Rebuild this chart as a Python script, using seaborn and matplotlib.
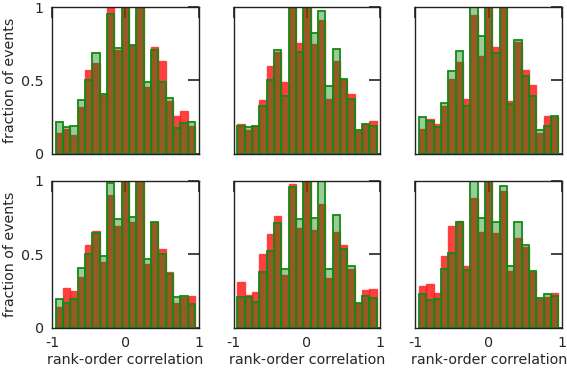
import numpy as np
import seaborn as sns
import matplotlib
matplotlib.use("Agg")
import matplotlib.pyplot as plt

# bin centres of the rank-order correlation histograms
centers = [-0.9, -0.8, -0.7, -0.6, -0.5, -0.4, -0.3, -0.2, -0.1, 0.0,
           0.1, 0.2, 0.3, 0.4, 0.5, 0.6, 0.7, 0.8, 0.9]

# red series, one list per panel (row by row)
red_1 = [0.14, 0.17, 0.13, 0.32, 0.57, 0.62, 0.40, 1.00, 0.71, 1.00,
         0.74, 1.00, 0.455, 0.73, 0.63, 0.36, 0.26, 0.29, 0.19]
red_2 = [0.205, 0.16, 0.19, 0.37, 0.60, 0.695, 0.49, 1.00, 0.755, 1.00,
         0.75, 0.91, 0.375, 0.63, 0.51, 0.41, 0.157, 0.20, 0.227]
red_3 = [0.168, 0.239, 0.205, 0.327, 0.51, 0.623, 0.373, 0.943, 0.664, 1.00,
         0.73, 1.00, 0.36, 0.76, 0.57, 0.468, 0.141, 0.255, 0.25]
red_4 = [0.143, 0.27, 0.25, 0.343, 0.564, 0.66, 0.445, 0.905, 0.69, 1.00,
         0.718, 1.00, 0.436, 0.723, 0.534, 0.38, 0.17, 0.21, 0.214]
red_5 = [0.31, 0.223, 0.245, 0.50, 0.64, 0.76, 0.36, 0.977, 0.677, 1.00,
         0.664, 0.84, 0.336, 0.65, 0.56, 0.40, 0.166, 0.255, 0.261]
red_6 = [0.282, 0.30, 0.236, 0.49, 0.69, 0.727, 0.418, 0.886, 0.65, 1.00,
         0.645, 0.93, 0.386, 0.614, 0.548, 0.377, 0.193, 0.21, 0.236]

# green series
green_1 = [0.216, 0.18, 0.19, 0.37, 0.50, 0.69, 0.407, 0.955, 0.72, 1.00,
           0.743, 1.00, 0.486, 0.705, 0.49, 0.377, 0.175, 0.21, 0.216]
green_2 = [0.193, 0.18, 0.19, 0.327, 0.505, 0.707, 0.395, 1.00, 0.693, 1.00,
           0.82, 0.973, 0.464, 0.711, 0.51, 0.375, 0.164, 0.205, 0.193]
green_3 = [0.248, 0.223, 0.182, 0.343, 0.566, 0.70, 0.327, 1.00, 0.805, 1.00,
           0.69, 1.00, 0.34, 0.775, 0.532, 0.395, 0.161, 0.19, 0.255]
green_4 = [0.193, 0.166, 0.193, 0.41, 0.50, 0.645, 0.49, 0.984, 0.74, 1.00,
           0.752, 1.00, 0.468, 0.718, 0.505, 0.364, 0.21, 0.218, 0.16]
green_5 = [0.207, 0.21, 0.177, 0.38, 0.525, 0.714, 0.40, 0.96, 0.74, 1.00,
           0.745, 1.00, 0.398, 0.768, 0.536, 0.423, 0.17, 0.214, 0.20]
green_6 = [0.227, 0.189, 0.193, 0.398, 0.51, 0.718, 0.39, 1.00, 0.75, 1.00,
           0.718, 0.964, 0.42, 0.723, 0.564, 0.389, 0.205, 0.23, 0.218]

reds = [red_1, red_2, red_3, red_4, red_5, red_6]
greens = [green_1, green_2, green_3, green_4, green_5, green_6]

xticks = [-1, 0, 1]
xtick_labels = ["-1", "0", "1"]
yticks = [0, 0.5, 1]
ytick_labels = ["0", "0.5", "1"]

sns.set_style("white")
plt.rcParams["font.family"] = ["DejaVu Sans"]
plt.rcParams["font.size"] = 10.3

fig, axes = plt.subplots(2, 3, figsize=(5.67, 3.71), dpi=100)
fig.subplots_adjust(left=0.0917, right=0.9912, top=0.9811, bottom=0.1167,
                    wspace=0.2386, hspace=0.184)

for i, ax in enumerate(axes.flat):
    sns.barplot(x=centers, y=reds[i], native_scale=True, width=1.0,
                color="#ff0000", alpha=0.75, edgecolor="#ff2020",
                linewidth=1.0, saturation=1, ax=ax)
    sns.barplot(x=centers, y=greens[i], native_scale=True, width=1.0,
                facecolor=(0, 0.5, 0, 0.4), edgecolor="#138a13",
                linewidth=1.3, saturation=1, ax=ax)
    ax.set_xlim(-1, 1)
    ax.set_ylim(0, 1)
    # ticks under the bars, like the mirrored gnuplot ticks
    ax.set_axisbelow(True)
    ax.set_xticks(xticks)
    ax.set_yticks(yticks)
    ax.tick_params(direction="in", length=8, width=1.2, color="#222222",
                   top=True, right=True, pad=6, labelsize=10.3)
    for s in ax.spines.values():
        s.set_visible(True)
        s.set_color("#222222")
        s.set_linewidth(1.0)
    row, col = divmod(i, 3)
    if col == 0:
        ax.set_yticklabels(ytick_labels)
        ax.set_ylabel("fraction of events", fontsize=10.3, labelpad=3)
    else:
        ax.set_yticklabels([])
        ax.set_ylabel("")
    if row == 1:
        ax.set_xticklabels(xtick_labels)
        ax.set_xlabel("rank-order correlation", fontsize=10.3, labelpad=2)
    else:
        ax.set_xticklabels([])
        ax.set_xlabel("")

fig.savefig("out.png", dpi=100)
